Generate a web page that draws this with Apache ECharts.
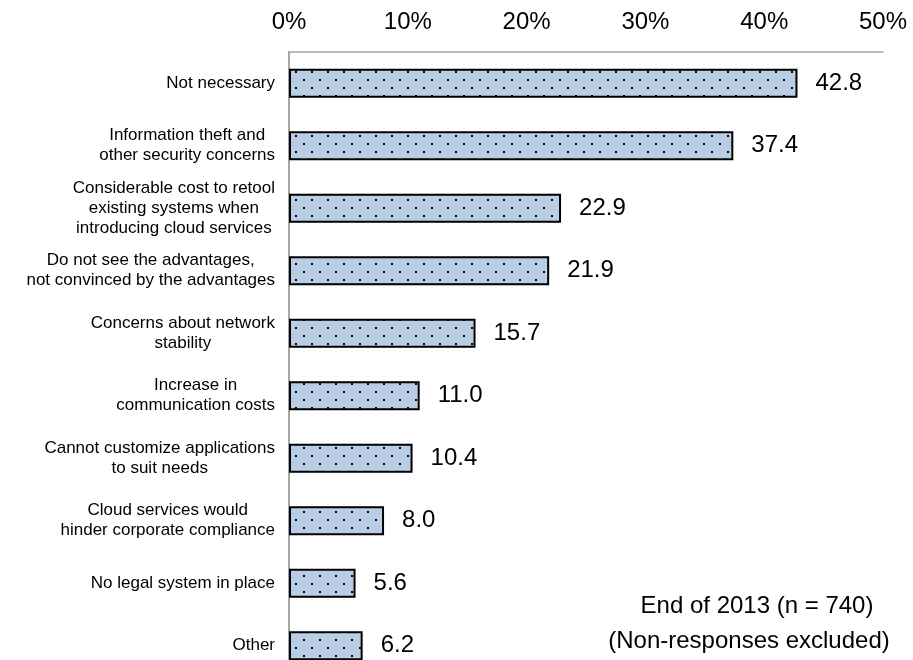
<!DOCTYPE html>
<html>
<head>
<meta charset="utf-8">
<style>
  html, body { margin: 0; padding: 0; background: #fff; }
  #chart { width: 913px; height: 660px; }
</style>
<script src="https://cdn.jsdelivr.net/npm/echarts@6/dist/echarts.min.js"></script>
</head>
<body>
<div id="chart"></div>
<script>
// Reasons for not using cloud services (multiple answers, %)
const reasons = [
  'Not necessary',
  'Information theft and\nother security concerns',
  'Considerable cost to retool\nexisting systems when\nintroducing cloud services',
  'Do not see the advantages,\nnot convinced by the advantages',
  'Concerns about network\nstability',
  'Increase in\ncommunication costs',
  'Cannot customize applications\nto suit needs',
  'Cloud services would\nhinder corporate compliance',
  'No legal system in place',
  'Other'
];
const shares = [42.8, 37.4, 22.9, 21.9, 15.7, 11.0, 10.4, 8.0, 5.6, 6.2];
const axisMin = 0;
const axisMax = 50;
const axisStep = 10;
const noteLines = ['End of 2013 (n = 740)', '(Non-responses excluded)'];

const FONT = '"Liberation Sans", Arial, Helvetica, sans-serif';

// Light blue fill with a staggered dot texture
function dotPattern() {
  const c = document.createElement('canvas');
  c.width = 16; c.height = 16;
  const g = c.getContext('2d');
  g.fillStyle = '#b9cde5';
  g.fillRect(0, 0, 16, 16);
  g.fillStyle = '#000';
  g.fillRect(7, 7, 2, 2);
  g.fillRect(-1, -1, 2, 2);
  g.fillRect(15, -1, 2, 2);
  g.fillRect(-1, 15, 2, 2);
  g.fillRect(15, 15, 2, 2);
  return c;
}

const chart = echarts.init(document.getElementById('chart'), null, { renderer: 'canvas' });

chart.setOption({
  animation: false,
  backgroundColor: '#fff',
  grid: {
    left: 289, top: 52, width: 594, height: 625,
    containLabel: false,
    outerBoundsMode: 'none'
  },
  xAxis: {
    type: 'value',
    position: 'top',
    min: axisMin, max: axisMax, interval: axisStep,
    axisLine: { show: true, lineStyle: { color: '#a6a6a6', width: 1.5 } },
    axisTick: { show: false },
    splitLine: { show: false },
    axisLabel: {
      formatter: '{value}%',
      fontFamily: FONT, fontSize: 24, color: '#000',
      margin: 18
    }
  },
  yAxis: {
    type: 'category',
    inverse: true,
    data: reasons,
    axisLine: { show: true, lineStyle: { color: '#a6a6a6', width: 2 } },
    axisTick: { show: false },
    axisLabel: {
      margin: 14,
      align: 'right',
      formatter: v => v.split('\n').map(l => '{c|' + l + '}').join('\n'),
      rich: {
        c: { align: 'center', fontFamily: FONT, fontSize: 17, lineHeight: 20, color: '#000' }
      }
    }
  },
  series: [{
    type: 'bar',
    data: shares,
    barWidth: 29,
    itemStyle: {
      color: { image: dotPattern(), repeat: 'repeat' },
      borderColor: '#000',
      borderWidth: 2
    },
    label: {
      show: true,
      position: 'right',
      distance: 18,
      formatter: p => p.value.toFixed(1),
      fontFamily: FONT, fontSize: 24, color: '#000'
    }
  }],
  graphic: [
    {
      type: 'text', x: 757, y: 606,
      style: { text: noteLines[0], align: 'center', verticalAlign: 'middle',
               font: '24px ' + FONT, fill: '#000' }
    },
    {
      type: 'text', x: 749, y: 641,
      style: { text: noteLines[1], align: 'center', verticalAlign: 'middle',
               font: '24px ' + FONT, fill: '#000' }
    }
  ]
});
</script>
</body>
</html>
